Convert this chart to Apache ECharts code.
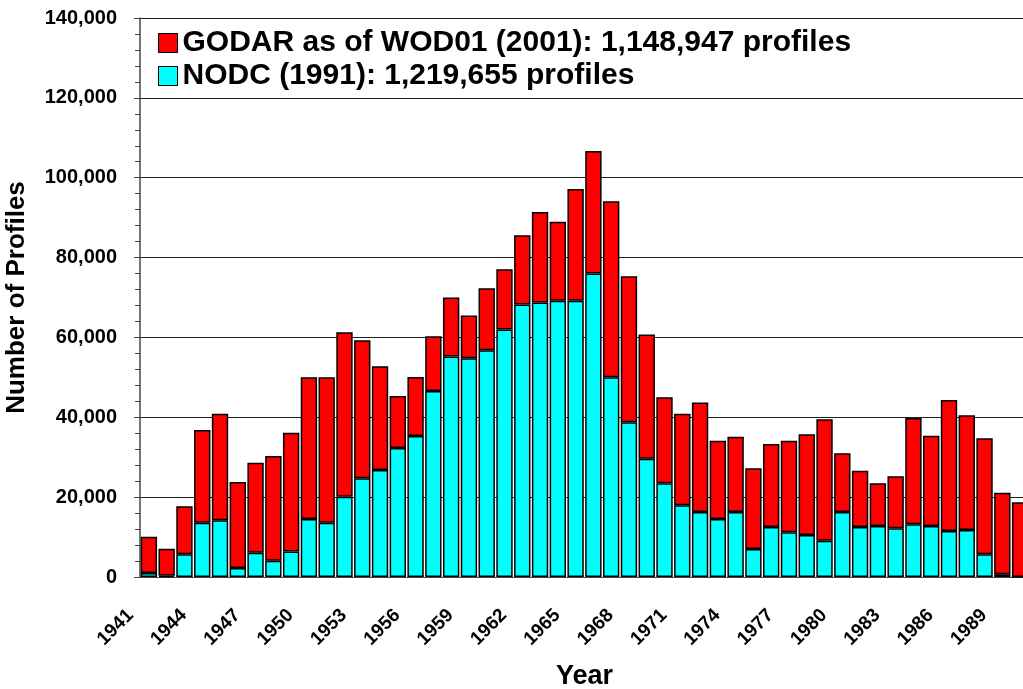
<!DOCTYPE html>
<html>
<head>
<meta charset="utf-8">
<script src="https://cdn.jsdelivr.net/npm/echarts@6/dist/echarts.min.js"></script>
<style>
  html, body { margin: 0; padding: 0; background: #fff; }
  #chart { width: 1023px; height: 689px; }
</style>
</head>
<body>
<div id="chart"></div>
<script>
// years on the x axis
const years = [
  '1941', '1942', '1943', '1944', '1945', '1946', '1947', '1948', '1949', '1950',
  '1951', '1952', '1953', '1954', '1955', '1956', '1957', '1958', '1959', '1960',
  '1961', '1962', '1963', '1964', '1965', '1966', '1967', '1968', '1969', '1970',
  '1971', '1972', '1973', '1974', '1975', '1976', '1977', '1978', '1979', '1980',
  '1981', '1982', '1983', '1984', '1985', '1986', '1987', '1988', '1989', '1990'
]
// NODC (1991) profiles, bottom segment
const nodc = [
  1000, 300, 5700, 13600, 14200, 2250, 6100, 4100, 6400, 14500,
  13600, 20100, 24750, 26800, 32300, 35300, 46600, 55200, 54800, 56800,
  62000, 68250, 68750, 69200, 69200, 76000, 50000, 38750, 29600, 23500,
  18000, 16250, 14500, 16250, 7000, 12500, 11200, 10500, 9100, 16250,
  12500, 12800, 12200, 13200, 12800, 11500, 11750, 5700, 700, 0
]
// GODAR additions, stacked on top
const godar = [
  9100, 6800, 12050, 23200, 26700, 21550, 22500, 26200, 29700, 35500,
  36400, 41200, 34550, 26000, 13000, 14800, 13700, 14800, 10700, 15500,
  15100, 17350, 22650, 19800, 28000, 30700, 44100, 36550, 31150, 21500,
  22900, 27450, 19600, 18850, 20250, 20800, 22900, 25250, 30400, 14750,
  14100, 10700, 13050, 26600, 22600, 32800, 28750, 29050, 20400, 18700
]
const godarName = 'GODAR as of WOD01 (2001): 1,148,947 profiles'
const nodcName = 'NODC (1991): 1,219,655 profiles'

const font = "'Liberation Sans', Arial, sans-serif"
const chart = echarts.init(document.getElementById('chart'))

const option = {
  animation: false,
  textStyle: { fontFamily: font },
  grid: {
    left: 140,
    top: 18,
    width: 889,
    height: 559,
    outerBoundsMode: 'none'
  },
  legend: {
    orient: 'vertical',
    left: 153,
    top: 23,
    itemWidth: 19,
    itemHeight: 19,
    itemGap: 3,
    icon: 'rect',
    data: [godarName, nodcName],
    itemStyle: { borderColor: '#000', borderWidth: 1 },
    textStyle: {
      fontFamily: font,
      fontSize: 30,
      fontWeight: 'bold',
      color: '#000'
    }
  },
  xAxis: {
    type: 'category',
    data: years,
    name: 'Year',
    nameLocation: 'middle',
    nameGap: 86,
    nameTextStyle: { fontFamily: font, fontSize: 27, fontWeight: 'bold', color: '#000' },
    axisLine: { lineStyle: { color: '#444', width: 1 } },
    axisTick: { interval: 0, length: 6, lineStyle: { color: '#444' } },
    axisLabel: {
      interval: 2,
      rotate: 45,
      margin: 17,
      padding: [0, 26, 0, 0],
      fontFamily: font,
      fontSize: 19,
      fontWeight: 'bold',
      color: '#000'
    }
  },
  yAxis: {
    type: 'value',
    min: 0,
    max: 140000,
    interval: 20000,
    name: 'Number of Profiles',
    nameLocation: 'middle',
    nameGap: 110,
    nameTextStyle: { fontFamily: font, fontSize: 26, fontWeight: 'bold', color: '#000' },
    axisLine: { show: true, lineStyle: { color: '#444', width: 1.5 } },
    axisTick: { show: true, length: 6, lineStyle: { color: '#444' } },
    minorTick: { show: true, splitNumber: 5, length: 5, lineStyle: { color: '#444' } },
    splitLine: { show: true, lineStyle: { color: '#222', width: 1 } },
    axisLabel: {
      margin: 23,
      fontFamily: font,
      fontSize: 20,
      fontWeight: 'bold',
      color: '#000',
      formatter: (v) => v.toLocaleString('en-US')
    }
  },
  series: [
    {
      name: nodcName,
      type: 'bar',
      stack: 'total',
      data: nodc,
      barCategoryGap: '8%',
      itemStyle: { color: '#00FFFF', borderColor: '#000', borderWidth: 1.5 }
    },
    {
      name: godarName,
      type: 'bar',
      stack: 'total',
      data: godar,
      barCategoryGap: '8%',
      itemStyle: { color: '#FF0000', borderColor: '#000', borderWidth: 1.5 }
    }
  ]
}
chart.setOption(option)
</script>
</body>
</html>
